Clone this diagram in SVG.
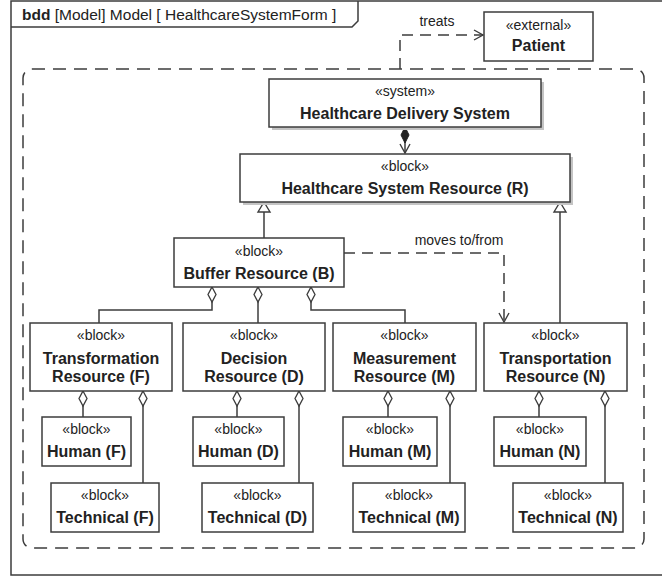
<svg xmlns="http://www.w3.org/2000/svg" width="662" height="579" viewBox="0 0 662 579">
<style>
  .box{fill:#fff;stroke:#3c3c3c;stroke-width:1.5}
  .shadow{fill:#c4c4c4;stroke:none}
  .st{font-family:"Liberation Sans",Arial,sans-serif;font-size:14px;fill:#222;text-anchor:middle}
  .nm{font-family:"Liberation Sans",Arial,sans-serif;font-size:16px;font-weight:bold;fill:#222;text-anchor:middle}
  .lbl{font-family:"Liberation Sans",Arial,sans-serif;font-size:14px;fill:#222;text-anchor:middle}
  .ln{fill:none;stroke:#3c3c3c;stroke-width:1.5}
  .dash{stroke-dasharray:11 7}
</style>
<defs>
  <marker id="aggr" markerUnits="userSpaceOnUse" markerWidth="20" markerHeight="20" refX="0" refY="0" orient="auto" overflow="visible">
    <path d="M0,0 L7.5,-4 L15,0 L7.5,4 Z" fill="#fff" stroke="#3c3c3c" stroke-width="1.3"/>
  </marker>
  <marker id="comp" markerUnits="userSpaceOnUse" markerWidth="20" markerHeight="20" refX="0" refY="0" orient="auto" overflow="visible">
    <path d="M0,0 L8,-4 L16,0 L8,4 Z" fill="#222" stroke="#222" stroke-width="1"/>
  </marker>
  <marker id="open" markerUnits="userSpaceOnUse" markerWidth="20" markerHeight="20" refX="0" refY="0" orient="auto" overflow="visible">
    <path d="M-9,-5 L0,0 L-9,5" fill="none" stroke="#3c3c3c" stroke-width="1.4"/>
  </marker>
  <marker id="gen" markerUnits="userSpaceOnUse" markerWidth="20" markerHeight="20" refX="0" refY="0" orient="auto" overflow="visible">
    <path d="M0,0 L-10,-6 L-10,6 Z" fill="#fff" stroke="#3c3c3c" stroke-width="1.4"/>
  </marker>
</defs>

<g id="frame">
  <rect x="11" y="1" width="700" height="574" fill="#fff" stroke="#3c3c3c" stroke-width="1.5"/>
  <path d="M11,27 H352 L358,21 V1" fill="none" stroke="#3c3c3c" stroke-width="1.5"/>
  <text x="22" y="20" font-family="'Liberation Sans',Arial,sans-serif" font-size="15.5" fill="#222"><tspan font-weight="bold">bdd</tspan> [Model]  Model [ HealthcareSystemForm  ]</text>
</g>

<g id="boundary">
  <rect x="23" y="69" width="621" height="479" rx="9" fill="none" stroke="#3c3c3c" stroke-width="1.5" stroke-dasharray="13 8"/>
</g>

<g id="connectors">
  <path class="ln dash" d="M400,69 V35 H483" marker-end="url(#open)"/>
  <text class="lbl" x="437" y="26">treats</text>
  <path class="ln dash" d="M344,253 H504 V322" marker-end="url(#open)"/>
  <text class="lbl" x="459" y="245">moves to/from</text>
  <path class="ln" d="M405,127 V153" marker-start="url(#comp)" marker-end="url(#open)"/>
  <path class="ln" d="M264,238 V202" marker-end="url(#gen)"/>
  <path class="ln" d="M560,323 V202" marker-end="url(#gen)"/>
  <path class="ln" d="M212,287 V310 H99 V323" marker-start="url(#aggr)"/>
  <path class="ln" d="M258,287 V323" marker-start="url(#aggr)"/>
  <path class="ln" d="M311,287 V310 H405 V323" marker-start="url(#aggr)"/>
  <path class="ln" d="M83,391 V417" marker-start="url(#aggr)"/>
  <path class="ln" d="M143,391 V483" marker-start="url(#aggr)"/>
  <path class="ln" d="M237,391 V417" marker-start="url(#aggr)"/>
  <path class="ln" d="M299,391 V483" marker-start="url(#aggr)"/>
  <path class="ln" d="M388,391 V417" marker-start="url(#aggr)"/>
  <path class="ln" d="M450,391 V483" marker-start="url(#aggr)"/>
  <path class="ln" d="M539,391 V417" marker-start="url(#aggr)"/>
  <path class="ln" d="M605,391 V483" marker-start="url(#aggr)"/>
</g>

<g id="patient">
  <rect class="box" x="484" y="12" width="109" height="49"/>
  <text class="st" x="538.5" y="30">«external»</text>
  <text class="nm" x="538.5" y="51">Patient</text>
</g>

<g id="healthcare-delivery-system">
  <rect class="shadow" x="272" y="82" width="272" height="48"/>
  <rect class="box" x="269" y="79" width="272" height="48"/>
  <text class="st" x="405" y="96">«system»</text>
  <text class="nm" x="405" y="119">Healthcare Delivery System</text>
</g>

<g id="healthcare-system-resource">
  <rect class="shadow" x="243" y="157" width="330" height="48"/>
  <rect class="box" x="240" y="154" width="330" height="48"/>
  <text class="st" x="405" y="171">«block»</text>
  <text class="nm" x="405" y="194">Healthcare System Resource (R)</text>
</g>

<g id="buffer-resource">
  <rect class="box" x="174" y="238" width="170" height="49"/>
  <text class="st" x="259" y="256">«block»</text>
  <text class="nm" x="259" y="279">Buffer Resource (B)</text>
</g>

<g id="transformation-resource">
  <rect class="box" x="30" y="323" width="142" height="68"/>
  <text class="st" x="101" y="340">«block»</text>
  <text class="nm" x="101" y="364">Transformation</text>
  <text class="nm" x="101" y="382">Resource (F)</text>
</g>

<g id="decision-resource">
  <rect class="box" x="183" y="323" width="142" height="68"/>
  <text class="st" x="254" y="340">«block»</text>
  <text class="nm" x="254" y="364">Decision</text>
  <text class="nm" x="254" y="382">Resource (D)</text>
</g>

<g id="measurement-resource">
  <rect class="box" x="333" y="323" width="143" height="68"/>
  <text class="st" x="404.5" y="340">«block»</text>
  <text class="nm" x="404.5" y="364">Measurement</text>
  <text class="nm" x="404.5" y="382">Resource (M)</text>
</g>

<g id="transportation-resource">
  <rect class="box" x="484" y="323" width="143" height="68"/>
  <text class="st" x="555.5" y="340">«block»</text>
  <text class="nm" x="555.5" y="364">Transportation</text>
  <text class="nm" x="555.5" y="382">Resource (N)</text>
</g>

<g id="human-f">
  <rect class="box" x="42" y="417" width="89" height="49"/>
  <text class="st" x="86.5" y="434">«block»</text>
  <text class="nm" x="86.5" y="457">Human (F)</text>
</g>
<g id="technical-f">
  <rect class="box" x="51" y="483" width="108" height="49"/>
  <text class="st" x="105" y="500">«block»</text>
  <text class="nm" x="105" y="523">Technical (F)</text>
</g>

<g id="human-d">
  <rect class="box" x="193" y="417" width="91" height="49"/>
  <text class="st" x="238.5" y="434">«block»</text>
  <text class="nm" x="238.5" y="457">Human (D)</text>
</g>
<g id="technical-d">
  <rect class="box" x="202" y="483" width="111" height="49"/>
  <text class="st" x="257.5" y="500">«block»</text>
  <text class="nm" x="257.5" y="523">Technical (D)</text>
</g>

<g id="human-m">
  <rect class="box" x="343" y="417" width="94" height="49"/>
  <text class="st" x="390" y="434">«block»</text>
  <text class="nm" x="390" y="457">Human (M)</text>
</g>
<g id="technical-m">
  <rect class="box" x="353" y="483" width="112" height="49"/>
  <text class="st" x="409" y="500">«block»</text>
  <text class="nm" x="409" y="523">Technical (M)</text>
</g>

<g id="human-n">
  <rect class="box" x="494" y="417" width="92" height="49"/>
  <text class="st" x="540" y="434">«block»</text>
  <text class="nm" x="540" y="457">Human (N)</text>
</g>
<g id="technical-n">
  <rect class="box" x="513" y="483" width="110" height="49"/>
  <text class="st" x="568" y="500">«block»</text>
  <text class="nm" x="568" y="523">Technical (N)</text>
</g>
</svg>
